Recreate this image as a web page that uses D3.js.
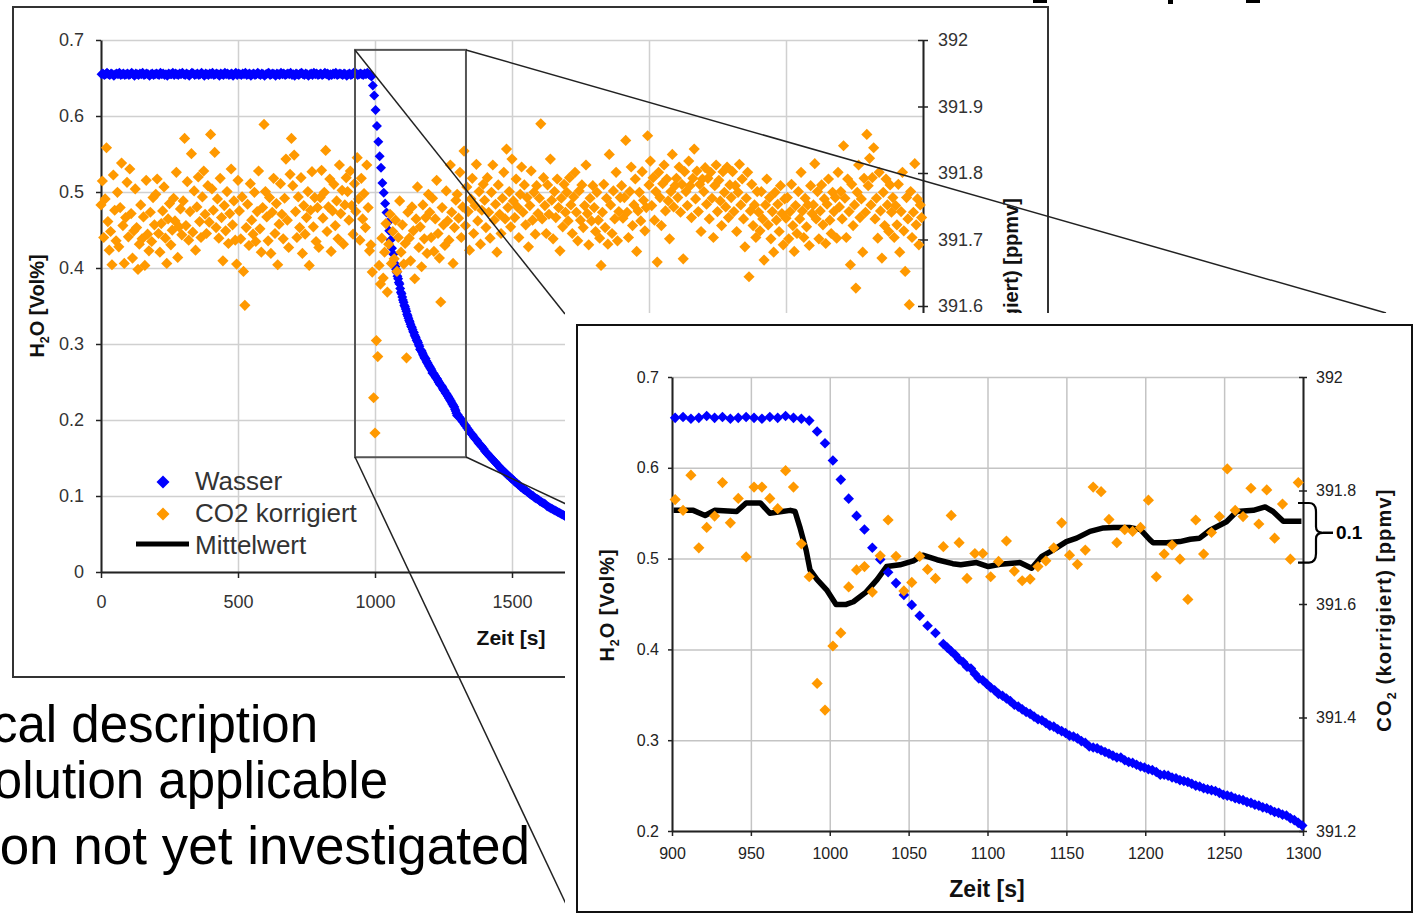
<!DOCTYPE html>
<html>
<head>
<meta charset="utf-8">
<script src="https://cdn.jsdelivr.net/npm/d3@7"></script>
<style>
  body { margin: 0; background: #fff; }
  svg { display: block; font-family: "Liberation Sans", Arial, sans-serif; }
</style>
</head>
<body>
<div id="chart"></div>
<script>
var width = 1414, height = 914;

// ---- data ----
// H2O "Wasser" [Vol%], first part sampled every 5 s (plateau + drop)
var wasserStartA = 2, wasserStepA = 5;
var wasserA = [
  0.655,0.656,0.654,0.655,0.657,0.655,0.654,0.656,0.655,0.653,0.655,0.656,0.655,0.657,0.654,0.655,0.656,0.654,0.655,0.656,
  0.654,0.655,0.657,0.655,0.653,0.656,0.655,0.654,0.656,0.655,0.657,0.654,0.655,0.656,0.655,0.653,0.655,0.656,0.654,0.655,
  0.656,0.655,0.654,0.657,0.655,0.656,0.654,0.655,0.653,0.656,0.655,0.655,0.657,0.654,0.656,0.655,0.654,0.656,0.655,0.657,
  0.655,0.654,0.656,0.655,0.653,0.655,0.657,0.656,0.654,0.655,0.656,0.654,0.655,0.657,0.655,0.653,0.656,0.655,0.654,0.656,
  0.655,0.657,0.654,0.655,0.656,0.655,0.653,0.656,0.655,0.654,0.657,0.655,0.656,0.654,0.655,0.656,0.653,0.655,0.657,0.654,
  0.656,0.655,0.654,0.656,0.655,0.657,0.654,0.655,0.656,0.653,0.655,0.656,0.654,0.655,0.657,0.655,0.654,0.656,0.655,0.653,
  0.655,0.656,0.657,0.654,0.655,0.656,0.655,0.653,0.656,0.655,0.654,0.657,0.655,0.656,0.654,0.655,0.656,0.655,0.657,0.654,
  0.655,0.653,0.656,0.655,0.654,0.656,0.657,0.655,0.654,0.656,0.655,0.653,0.655,0.656,0.654,0.657,0.655,0.656,0.654,0.655,
  0.656,0.654,0.655,0.657,0.655,0.656,0.653,0.655,0.654,0.656,0.655,0.657,0.654,0.655,0.656,0.655,0.654,0.656,0.655,0.653,
  0.655,0.656,0.654,0.655,0.657,0.655,0.656,0.654,0.655,0.656,0.655,0.654,0.656,0.655,0.657,0.655,0.654,
  0.652,0.640,0.627,0.608,0.587,0.566,0.547,0.532,0.512,0.499,0.485,0.473,0.460,0.449,0.437,0.426,0.418,0.406
];
// after the drop the logger writes every 2.5 s
var wasserStartB = 1074.5, wasserStepB = 2.5;
var wasserB = [
  0.402,0.398,0.394,0.389,0.386,0.381,0.379,0.373,0.368,0.366,
  0.362,0.358,0.355,0.351,0.349,0.346,0.343,0.339,0.337,0.334,
  0.331,0.329,0.326,0.323,0.322,0.319,0.316,0.315,0.312,0.310,
  0.308,0.305,0.304,0.302,0.299,0.297,0.293,0.292,0.291,0.289,
  0.287,0.285,0.283,0.281,0.281,0.278,0.276,0.275,0.273,0.271,
  0.270,0.268,0.267,0.265,0.262,0.262,0.261,0.259,0.258,0.256,
  0.255,0.254,0.252,0.250,0.249,0.247,0.246,0.245,0.244,0.242,
  0.240,0.239,0.238,0.236,0.235,0.234,0.232,0.231,0.229,0.228,
  0.226,0.225,0.223,0.221,0.220,0.218,0.217,0.214,0.212,0.209,0.206
];
var wasserStartC = 1302, wasserStepC = 5;
var wasserC = [
  0.207,0.204,0.202,0.199,0.197,0.194,0.192,0.189,0.187,0.184,0.182,0.180,0.177,0.175,0.173,0.170,0.168,0.166,0.164,0.162,
  0.159,0.157,0.155,0.153,0.151,0.149,0.147,0.145,0.143,0.141,0.139,0.137,0.135,0.134,0.132,0.130,0.128,0.127,0.125,0.123,
  0.122,0.120,0.118,0.117,0.115,0.114,0.112,0.111,0.109,0.108,0.107,0.105,0.104,0.102,0.101,0.100,0.098,0.097,0.096,0.095,
  0.093,0.092,0.091,0.090,0.089,0.087,0.086,0.085,0.084,0.083,0.082,0.081,0.080,0.079,0.078,0.077,0.076,0.075,0.074,0.073,0.072
];

// CO2 korrigiert [ppmv], full run (overview chart), every 5 s
var co2MainStart = 0, co2MainStep = 5;
var co2Main = [
  391.752,391.788,391.703,391.761,391.838,391.727,391.684,391.712,391.662,391.797,391.744,391.698,391.771,391.689,391.748,391.815,391.721,391.664,391.733,391.786,
  391.704,391.806,391.739,391.672,391.713,391.776,391.718,391.655,391.693,391.752,391.701,391.734,391.661,391.789,391.708,391.683,391.741,391.697,391.763,391.722,
  391.768,391.791,391.709,391.681,391.724,391.743,391.779,391.702,391.664,391.731,391.754,391.692,391.714,391.762,391.728,391.801,391.673,391.719,391.746,391.707,
  391.758,391.852,391.721,391.787,391.699,391.742,391.829,391.711,391.773,391.684,391.749,391.794,391.727,391.703,391.764,391.803,391.738,391.709,391.781,391.726,
  391.858,391.776,391.744,391.831,391.718,391.761,391.702,391.792,391.733,391.668,391.751,391.713,391.772,391.694,391.739,391.806,391.722,391.758,391.699,391.663,
  391.789,391.743,391.701,391.764,391.652,391.601,391.718,391.753,391.691,391.784,391.729,391.708,391.771,391.697,391.742,391.803,391.716,391.681,391.748,391.873,
  391.772,391.734,391.698,391.763,391.679,391.741,391.792,391.709,391.754,391.662,391.723,391.784,391.738,391.701,391.762,391.821,391.729,391.688,391.798,391.852,
  391.781,391.827,391.742,391.703,391.764,391.718,391.793,391.679,391.751,391.708,391.733,391.772,391.661,391.744,391.802,391.719,391.763,391.697,391.748,391.688,
  391.763,391.804,391.732,391.771,391.834,391.712,391.749,391.791,391.682,391.743,391.783,391.721,391.758,391.701,391.812,391.739,391.774,391.693,391.752,391.793,
  391.772,391.729,391.803,391.751,391.708,391.784,391.742,391.823,391.761,391.699,391.792,391.731,391.769,391.718,391.812,391.748,391.683,391.692,391.651,391.462,
  391.409,391.548,391.524,391.661,391.633,391.702,391.642,391.681,391.724,391.621,391.693,391.738,391.664,391.712,391.671,391.729,391.652,391.703,391.758,391.681,
  391.722,391.663,391.694,391.522,391.741,391.702,391.668,391.749,391.713,391.641,391.731,391.779,391.688,391.719,391.659,391.752,391.701,391.733,391.679,391.768,
  391.741,391.703,391.762,391.682,391.731,391.789,391.709,391.672,391.606,391.748,391.722,391.691,391.773,391.728,391.699,391.812,391.741,391.664,391.718,391.759,
  391.768,391.732,391.801,391.703,391.749,391.833,391.721,391.779,391.742,391.684,391.761,391.792,391.709,391.751,391.813,391.728,391.772,391.693,391.744,391.783,
  391.759,391.718,391.793,391.741,391.702,391.771,391.812,391.729,391.753,391.681,391.782,391.738,391.709,391.762,391.801,391.731,391.836,391.748,391.772,391.719,
  391.821,391.758,391.733,391.791,391.749,391.703,391.768,391.809,391.741,391.782,391.722,391.763,391.689,391.751,391.803,391.729,391.771,391.708,391.781,391.739,
  391.762,391.874,391.731,391.793,391.751,391.709,391.782,391.738,391.821,391.759,391.701,391.772,391.733,391.791,391.748,391.683,391.762,391.719,391.783,391.741,
  391.771,391.728,391.793,391.752,391.709,391.764,391.801,391.741,391.698,391.773,391.729,391.782,391.718,391.751,391.812,391.739,391.692,391.762,391.728,391.781,
  391.748,391.712,391.771,391.729,391.702,391.661,391.741,391.783,391.718,391.762,391.693,391.828,391.752,391.709,391.773,391.731,391.801,391.698,391.742,391.763,
  391.781,391.732,391.763,391.849,391.741,391.703,391.772,391.809,391.721,391.752,391.791,391.682,391.743,391.771,391.728,391.802,391.759,391.713,391.748,391.856,
  391.782,391.818,391.751,391.793,391.729,391.772,391.666,391.801,391.763,391.721,391.784,391.812,391.743,391.791,391.758,391.701,391.772,391.828,391.749,391.781,
  391.792,391.763,391.809,391.741,391.783,391.671,391.802,391.772,391.751,391.818,391.781,391.733,391.792,391.836,391.761,391.803,391.742,391.783,391.712,391.791,
  391.772,391.808,391.753,391.792,391.731,391.801,391.762,391.703,391.781,391.812,391.742,391.789,391.758,391.721,391.802,391.771,391.749,391.809,391.733,391.782,
  391.763,391.802,391.742,391.781,391.712,391.771,391.813,391.752,391.791,391.731,391.689,391.762,391.801,391.644,391.743,391.783,391.721,391.752,391.703,391.772,
  391.741,391.713,391.772,391.731,391.669,391.752,391.791,391.722,391.763,391.701,391.742,391.681,391.771,391.729,391.753,391.712,391.781,391.739,391.692,391.761,
  391.732,391.763,391.701,391.742,391.783,391.721,391.682,391.751,391.709,391.772,391.731,391.801,391.743,391.703,391.762,391.719,391.752,391.691,391.781,391.739,
  391.752,391.814,391.731,391.772,391.701,391.743,391.782,391.722,391.761,391.694,391.753,391.791,391.729,391.709,391.771,391.742,391.763,391.702,391.801,391.749,
  391.772,391.731,391.841,391.762,391.703,391.791,391.742,391.662,391.783,391.721,391.752,391.627,391.771,391.812,391.733,391.761,391.681,391.792,391.741,391.858,
  391.781,391.822,391.752,391.793,391.838,391.731,391.762,391.702,391.801,391.743,391.672,391.771,391.721,391.791,391.752,391.712,391.782,391.741,391.763,391.703,
  391.751,391.722,391.783,391.681,391.742,391.801,391.713,391.652,391.763,391.731,391.602,391.772,391.703,391.741,391.814,391.722,391.761,391.692,391.752,391.733
];

// CO2 korrigiert [ppmv], zoomed window 900-1300 s
var co2InsetStart = 902, co2InsetStep = 5;
var co2Inset = [
  391.784,391.765,391.827,391.699,391.735,391.755,391.814,391.743,391.786,391.683,
  391.806,391.806,391.786,391.768,391.835,391.806,391.706,391.648,391.460,391.413,
  391.526,391.549,391.630,391.660,391.666,391.621,391.685,391.748,391.684,391.623,
  391.638,391.684,391.661,391.645,391.701,391.756,391.708,391.645,391.689,391.689,
  391.648,391.675,391.711,391.658,391.641,391.644,391.666,391.676,391.699,391.743,
  391.686,391.670,391.695,391.806,391.798,391.749,391.708,391.731,391.728,391.735,
  391.783,391.648,391.688,391.704,391.679,391.608,391.748,391.688,391.726,391.754,
  391.838,391.765,391.754,391.804,391.741,391.801,391.716,391.776,391.679,391.814
];

// Mittelwert (running mean of CO2) [ppmv]
var mittelT = [901,913.5,921,927,941,947,956,962,975,978,981,985,987.5,992,998,1004,1010,1015,1023,1030,
  1036,1044.5,1053,1059,1068,1078,1083,1093,1100.5,1108,1120.5,1128,1134.5,1141.5,1150,1156.5,1165,1173.5,1180,1190,
  1197,1203,1205,1213.5,1222,1228.5,1234.5,1241,1251.5,1258,1268.5,1276,1281,1287.5,1299];
var mittelC = [391.765,391.765,391.756,391.765,391.763,391.778,391.778,391.760,391.765,391.763,391.736,391.695,391.660,391.643,391.625,391.599,391.599,391.604,391.621,391.643,
  391.666,391.669,391.676,391.686,391.678,391.671,391.669,391.673,391.666,391.670,391.673,391.663,391.684,391.695,391.710,391.716,391.728,391.734,391.735,391.735,
  391.731,391.713,391.708,391.708,391.710,391.714,391.716,391.730,391.745,391.763,391.765,391.771,391.763,391.746,391.746];

// ticks
var mainXTicks = [0, 500, 1000, 1500, 2000, 2500, 3000];
var mainYTicks = [0, 0.1, 0.2, 0.3, 0.4, 0.5, 0.6, 0.7];
var mainRTicks = [391.2, 391.3, 391.4, 391.5, 391.6, 391.7, 391.8, 391.9, 392];
var insetXTicks = [900, 950, 1000, 1050, 1100, 1150, 1200, 1250, 1300];
var insetYTicks = [0.2, 0.3, 0.4, 0.5, 0.6, 0.7];
var insetRTicks = [391.2, 391.4, 391.6, 391.8, 392];

var legendLabels = ["Wasser", "CO2 korrigiert", "Mittelwert"];
var bulletLines = ["cal description", "olution applicable", "on not yet investigated"];

// zoom window marked in the overview (s, Vol%) and brace span (ppmv)
var zoomBoxT = [927, 1332], zoomBoxV = [0.151, 0.687];
var braceC = [391.778, 391.673];

var BLUE = "#0000ff", ORANGE = "#ff9900";

function series(start, step, vals) {
  return vals.map(function (v, i) { return { t: start + i * step, v: v }; });
}
var wasser = series(wasserStartA, wasserStepA, wasserA)
  .concat(series(wasserStartB, wasserStepB, wasserB))
  .concat(series(wasserStartC, wasserStepC, wasserC));
var co2MainPts = series(co2MainStart, co2MainStep, co2Main);
var co2InsetPts = series(co2InsetStart, co2InsetStep, co2Inset);
var mittel = mittelT.map(function (t, i) { return { t: t, v: mittelC[i] }; });

function diamond(r) { return "M0," + (-r) + "L" + r + ",0L0," + r + "L" + (-r) + ",0Z"; }
function fmt(d) { return String(+d.toFixed(1)); }

function styleAxis(g, size, color) {
  g.attr("font-family", null).attr("font-size", null);
  g.select(".domain").attr("stroke", "#222").attr("stroke-width", 2);
  g.selectAll(".tick line").attr("stroke", "#222").attr("stroke-width", 1.5);
  g.selectAll(".tick text").attr("font-size", size).attr("fill", color);
}

function grid(g, axis, color) {
  g.call(axis).call(function (s) { s.select(".domain").remove(); });
  g.selectAll(".tick line").attr("stroke", color).attr("stroke-width", 1.5);
}

function rotTitle(parent, cx, cy, size, parts, spacing) {
  var t = parent.append("text")
    .attr("transform", "translate(" + cx + "," + cy + ") rotate(-90)")
    .attr("text-anchor", "middle").attr("dy", "0.35em")
    .attr("font-size", size).attr("font-weight", "bold").attr("fill", "#111")
    .attr("letter-spacing", spacing || 0);
  parts.forEach(function (p) {
    var ts = t.append("tspan").text(p.s);
    if (p.sub) ts.attr("font-size", size * 0.62).attr("dy", size * 0.25);
    if (p.back) ts.attr("dy", -size * 0.25);
  });
}

var svg = d3.select("#chart").append("svg").attr("width", width).attr("height", height);
svg.append("rect").attr("width", width).attr("height", height).attr("fill", "#fff");

// bits of the slide title cut off at the top edge
svg.append("rect").attr("x", 1033).attr("y", 0).attr("width", 14).attr("height", 3).attr("fill", "#000");
svg.append("rect").attr("x", 1168).attr("y", 0).attr("width", 5).attr("height", 4).attr("fill", "#000");
svg.append("rect").attr("x", 1246).attr("y", 0).attr("width", 14).attr("height", 3).attr("fill", "#000");

// ================= overview chart =================
var mx = d3.scaleLinear().domain([0, 3000]).range([101, 923]);
var my = d3.scaleLinear().domain([0, 0.7]).range([572, 40]);
var myR = d3.scaleLinear().domain([391.2, 392]).range([572, 40]);

var main = svg.append("g");
main.append("rect").attr("x", 13).attr("y", 7).attr("width", 1035).attr("height", 670)
  .attr("fill", "#fff").attr("stroke", "#333").attr("stroke-width", 2);

grid(main.append("g").attr("transform", "translate(0,572)"),
  d3.axisBottom(mx).tickValues(mainXTicks).tickSize(-532).tickFormat(""), "#d0d0d0");
grid(main.append("g").attr("transform", "translate(101,0)"),
  d3.axisLeft(my).tickValues(mainYTicks).tickSize(-822).tickFormat(""), "#d0d0d0");

main.append("g").attr("transform", "translate(0,572)")
  .call(d3.axisBottom(mx).tickValues(mainXTicks).tickSize(6).tickSizeOuter(0).tickPadding(17).tickFormat(fmt))
  .call(styleAxis, 18, "#333");
main.append("g").attr("transform", "translate(101,0)")
  .call(d3.axisLeft(my).tickValues(mainYTicks).tickSize(5).tickSizeOuter(0).tickPadding(12).tickFormat(fmt))
  .call(styleAxis, 18, "#333");
var mR = main.append("g").attr("transform", "translate(923,0)")
  .call(d3.axisRight(myR).tickValues(mainRTicks).tickSize(5).tickSizeOuter(0).tickPadding(10).tickFormat(fmt))
  .call(styleAxis, 18, "#333");
mR.selectAll(".tick line").attr("x1", -5);

main.append("g").selectAll("path").data(wasser.filter(function (d) { return d.t <= 3000; }))
  .join("path").attr("d", diamond(5)).attr("fill", BLUE)
  .attr("transform", function (d) { return "translate(" + mx(d.t) + "," + my(d.v) + ")"; });
main.append("g").selectAll("path").data(co2MainPts)
  .join("path").attr("d", diamond(5.6)).attr("fill", ORANGE)
  .attr("transform", function (d) { return "translate(" + mx(d.t) + "," + myR(d.v) + ")"; });

main.append("text").attr("x", 511).attr("y", 645).attr("text-anchor", "middle")
  .attr("font-size", 21).attr("font-weight", "bold").attr("fill", "#111").text("Zeit [s]");
rotTitle(main, 37, 306, 20, [{ s: "H" }, { s: "2", sub: true }, { s: "O [Vol%]", back: true }]);
rotTitle(main, 1011, 306, 20, [{ s: "CO" }, { s: "2", sub: true }, { s: " (korrigiert) [ppmv]", back: true }]);

// legend
var leg = main.append("g");
leg.append("path").attr("d", diamond(6.5)).attr("fill", BLUE).attr("transform", "translate(163,482)");
leg.append("path").attr("d", diamond(6.5)).attr("fill", ORANGE).attr("transform", "translate(163,514)");
leg.append("line").attr("x1", 136).attr("x2", 189).attr("y1", 544).attr("y2", 544)
  .attr("stroke", "#000").attr("stroke-width", 5);
leg.selectAll("text").data(legendLabels).join("text")
  .attr("x", 195).attr("y", function (d, i) { return 490 + i * 32; })
  .attr("font-size", 26).attr("fill", "#333").text(function (d) { return d; });

// zoom window and its connector lines
main.append("rect")
  .attr("x", mx(zoomBoxT[0])).attr("y", my(zoomBoxV[1]))
  .attr("width", mx(zoomBoxT[1]) - mx(zoomBoxT[0])).attr("height", my(zoomBoxV[0]) - my(zoomBoxV[1]))
  .attr("fill", "none").attr("stroke", "#555").attr("stroke-width", 2);
var connectors = [[355, 50, 565, 314], [466, 50, 1386, 313], [355, 457, 566, 904], [466, 457, 566, 504]];
main.selectAll("line.conn").data(connectors).join("line").attr("class", "conn")
  .attr("x1", function (d) { return d[0]; }).attr("y1", function (d) { return d[1]; })
  .attr("x2", function (d) { return d[2]; }).attr("y2", function (d) { return d[3]; })
  .attr("stroke", "#222").attr("stroke-width", 1.5);

// ================= zoomed chart =================
var ix = d3.scaleLinear().domain([900, 1300]).range([672, 1303]);
var iy = d3.scaleLinear().domain([0.2, 0.7]).range([831, 377]);
var iyR = d3.scaleLinear().domain([391.2, 392]).range([831, 377]);

var ins = svg.append("g");
ins.append("rect").attr("x", 565).attr("y", 313).attr("width", 849).attr("height", 601).attr("fill", "#fff");
ins.append("rect").attr("x", 577).attr("y", 325).attr("width", 835).attr("height", 587)
  .attr("fill", "#fff").attr("stroke", "#111").attr("stroke-width", 2);

grid(ins.append("g").attr("transform", "translate(0,831)"),
  d3.axisBottom(ix).tickValues(insetXTicks).tickSize(-454).tickFormat(""), "#c4c4c4");
grid(ins.append("g").attr("transform", "translate(672,0)"),
  d3.axisLeft(iy).tickValues(insetYTicks).tickSize(-631).tickFormat(""), "#c4c4c4");

ins.append("g").attr("transform", "translate(0,831)")
  .call(d3.axisBottom(ix).tickValues(insetXTicks).tickSize(5).tickSizeOuter(0).tickPadding(12).tickFormat(fmt))
  .call(styleAxis, 16, "#222");
ins.append("g").attr("transform", "translate(672,0)")
  .call(d3.axisLeft(iy).tickValues(insetYTicks).tickSize(4).tickSizeOuter(0).tickPadding(9).tickFormat(fmt))
  .call(styleAxis, 16, "#222");
var iR = ins.append("g").attr("transform", "translate(1303,0)")
  .call(d3.axisRight(iyR).tickValues(insetRTicks).tickSize(4).tickSizeOuter(0).tickPadding(9).tickFormat(fmt))
  .call(styleAxis, 16, "#222");
iR.selectAll(".tick line").attr("x1", -4);

ins.append("path").datum(mittel)
  .attr("d", d3.line().x(function (d) { return ix(d.t); }).y(function (d) { return iyR(d.v); }))
  .attr("fill", "none").attr("stroke", "#000").attr("stroke-width", 5.5).attr("stroke-linejoin", "round");
ins.append("g").selectAll("path").data(wasser.filter(function (d) { return d.t >= 899 && d.t <= 1301; }))
  .join("path").attr("d", diamond(5.3)).attr("fill", BLUE)
  .attr("transform", function (d) { return "translate(" + ix(d.t) + "," + iy(d.v) + ")"; });
ins.append("g").selectAll("path").data(co2InsetPts)
  .join("path").attr("d", diamond(5.6)).attr("fill", ORANGE)
  .attr("transform", function (d) { return "translate(" + ix(d.t) + "," + iyR(d.v) + ")"; });

// brace marking the spread of the mean
var bTop = iyR(braceC[0]), bBot = iyR(braceC[1]), bMid = (bTop + bBot) / 2;
ins.append("path")
  .attr("d", "M1298," + bTop + "L1309," + bTop + "Q1316," + bTop + " 1316," + (bTop + 9) +
    "L1316," + (bMid - 6) + "Q1316," + bMid + " 1323," + bMid +
    "Q1316," + bMid + " 1316," + (bMid + 6) + "L1316," + (bBot - 9) +
    "Q1316," + bBot + " 1309," + bBot + "L1298," + bBot)
  .attr("fill", "none").attr("stroke", "#000").attr("stroke-width", 2.2);
ins.append("line").attr("x1", 1323).attr("x2", 1333).attr("y1", bMid).attr("y2", bMid)
  .attr("stroke", "#000").attr("stroke-width", 2.5);
ins.append("text").attr("x", 1336).attr("y", bMid).attr("dy", "0.35em")
  .attr("font-size", 19).attr("font-weight", "bold").attr("fill", "#000").text("0.1");

ins.append("text").attr("x", 987).attr("y", 897).attr("text-anchor", "middle")
  .attr("font-size", 23).attr("font-weight", "bold").attr("fill", "#111").text("Zeit [s]");
rotTitle(ins, 607, 605, 20, [{ s: "H" }, { s: "2", sub: true }, { s: "O [Vol%]", back: true }], 1);
rotTitle(ins, 1384, 610, 20, [{ s: "CO" }, { s: "2", sub: true }, { s: " (korrigiert) [ppmv]", back: true }], 1.2);

// ================= slide text cut at the left edge =================
svg.append("g").selectAll("text").data(bulletLines).join("text")
  .attr("x", function (d, i) { return [318, 388, 530][i]; })
  .attr("y", function (d, i) { return [742, 798, 864][i]; })
  .attr("text-anchor", "end").attr("font-size", function (d, i) { return i === 2 ? 53 : 51; })
  .attr("fill", "#000")
  .text(function (d) { return d; });
</script>
</body>
</html>
